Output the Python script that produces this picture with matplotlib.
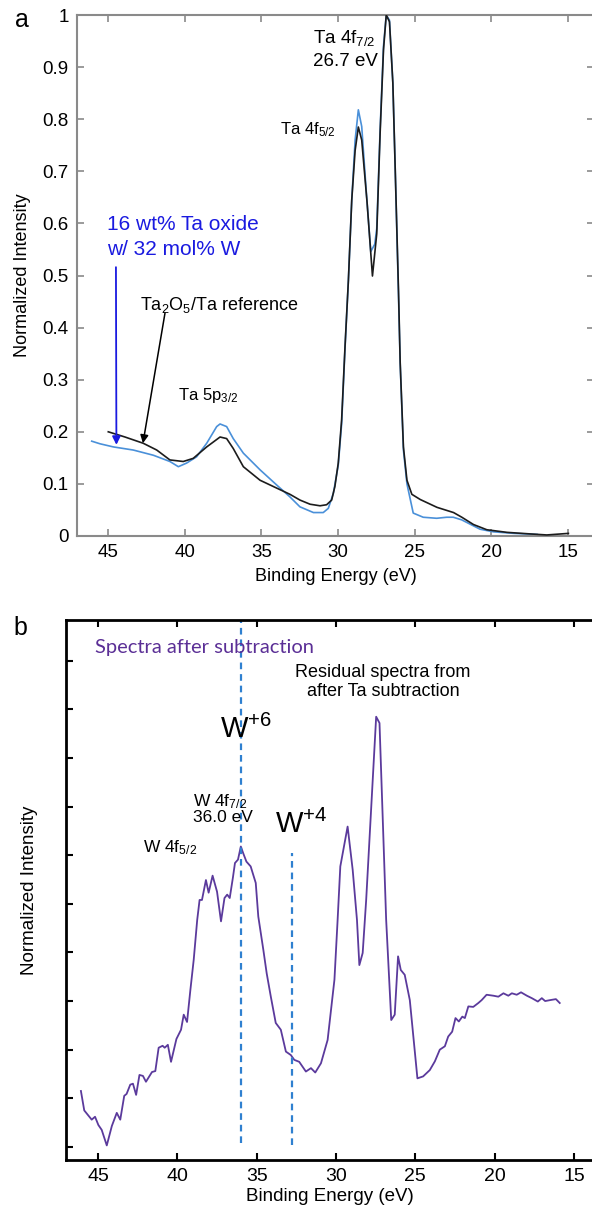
import numpy as np
import matplotlib
matplotlib.use("Agg")
import matplotlib.pyplot as plt

plt.rcParams['font.family'] = ['Liberation Sans', 'DejaVu Sans']
plt.rcParams['mathtext.fontset'] = 'custom'
plt.rcParams['mathtext.rm'] = 'Liberation Sans'
plt.rcParams['mathtext.it'] = 'Liberation Sans:italic'
plt.rcParams['mathtext.bf'] = 'Liberation Sans:bold'

# ---- panel a: Ta 4f region (normalized) ----
ref_be = [44.98, 43.89, 42.7, 41.82, 40.96, 40.09, 39.44, 38.56, 37.69, 37.26,
          36.83, 36.17, 35.08, 34.0, 33.13, 32.48, 31.82, 31.17, 30.74, 30.41,
          30.2, 29.98, 29.76, 29.54, 29.32, 29.1, 28.88, 28.67, 28.45, 28.1,
          27.75, 27.47, 27.25, 27.03, 26.85, 26.64, 26.42, 26.27, 26.05, 25.94,
          25.73, 25.5, 25.18, 24.63, 23.54, 22.46, 21.92, 21.16, 20.29, 18.98,
          17.47, 16.38, 14.97]
ref_int = [0.20, 0.19, 0.178, 0.165, 0.146, 0.143, 0.149, 0.171, 0.19, 0.187,
           0.168, 0.133, 0.107, 0.092, 0.08, 0.069, 0.061, 0.058, 0.060, 0.069,
           0.095, 0.14, 0.223, 0.363, 0.49, 0.645, 0.74, 0.785, 0.76, 0.64,
           0.499, 0.58, 0.773, 0.933, 1.0, 0.987, 0.87, 0.709, 0.47, 0.332,
           0.171, 0.107, 0.08, 0.07, 0.055, 0.045, 0.036, 0.022, 0.012, 0.007,
           0.004, 0.002, 0.005]

w_be = [46.06, 45.52, 44.65, 43.35, 42.04, 40.96, 40.41, 39.87, 39.22, 38.56,
        37.91, 37.69, 37.26, 36.83, 36.17, 35.08, 34.0, 33.13, 32.48, 31.6,
        30.96, 30.63, 30.3, 29.98, 29.76, 29.54, 29.32, 29.1, 28.88, 28.67,
        28.45, 28.15, 27.86, 27.6, 27.47, 27.25, 27.03, 26.85, 26.64, 26.42,
        26.27, 26.05, 25.94, 25.73, 25.5, 25.09, 24.44, 23.56, 22.91, 22.48,
        21.93, 20.73, 19.86, 18.5, 17.0]
w_int = [0.182, 0.177, 0.171, 0.165, 0.155, 0.143, 0.133, 0.140, 0.152, 0.178,
         0.21, 0.215, 0.21, 0.187, 0.159, 0.127, 0.098, 0.075, 0.056, 0.045,
         0.045, 0.053, 0.082, 0.136, 0.215, 0.36, 0.49, 0.645, 0.76, 0.818,
         0.786, 0.66, 0.546, 0.56, 0.59, 0.78, 0.94, 1.0, 0.99, 0.87,
         0.71, 0.46, 0.33, 0.165, 0.1, 0.044, 0.036, 0.034, 0.036, 0.036,
         0.031, 0.013, 0.008, 0.005, 0.003]

# ---- panel b: residual after Ta subtraction (arb. units) ----
res_be = [46.08, 45.87, 45.4, 45.19, 44.98, 44.77, 44.45, 44.13, 43.82, 43.6,
          43.35, 43.2, 42.97, 42.8, 42.6, 42.39, 42.17, 41.98, 41.6, 41.39,
          41.18, 40.93, 40.8, 40.6, 40.4, 40.06, 39.77, 39.6, 39.39, 39.18,
          38.97, 38.75, 38.6, 38.45, 38.2, 38.03, 37.78, 37.5, 37.25, 37.03,
          36.86, 36.7, 36.5, 36.37, 36.18, 36.0, 35.86, 35.65, 35.38, 35.06,
          34.9, 34.58, 34.37, 34.11, 33.8, 33.48, 33.16, 32.85, 32.63, 32.32,
          31.9, 31.58, 31.31, 30.95, 30.53, 30.1, 29.9, 29.73, 29.27, 28.95,
          28.68, 28.53, 28.32, 28.1, 27.47, 27.26, 26.84, 26.52, 26.3, 26.09,
          25.92, 25.67, 25.35, 24.87, 24.51, 24.09, 23.77, 23.46, 23.14, 22.93,
          22.68, 22.47, 22.26, 22.04, 21.88, 21.66, 21.35, 21.03, 20.82, 20.51,
          20.08, 19.77, 19.45, 19.14, 18.92, 18.61, 18.34, 17.97, 17.66, 17.28,
          17.03, 16.82, 16.5, 16.14, 15.9]
res_int = [1.15, 0.75, 0.56, 0.62, 0.45, 0.35, 0.03, 0.43, 0.70, 0.56,
           1.05, 1.09, 1.28, 1.30, 1.07, 1.48, 1.46, 1.34, 1.54, 1.56,
           2.04, 2.08, 2.04, 2.10, 1.75, 2.22, 2.41, 2.72, 2.57, 3.23,
           3.85, 4.67, 5.08, 5.08, 5.49, 5.23, 5.58, 5.25, 4.64, 5.12,
           5.19, 5.12, 5.54, 5.84, 5.91, 6.18, 6.05, 5.87, 5.77, 5.43,
           4.74, 4.05, 3.57, 3.09, 2.55, 2.41, 1.96, 1.89, 1.79, 1.75,
           1.55, 1.62, 1.53, 1.72, 2.20, 3.44, 4.67, 5.77, 6.59, 5.70,
           4.67, 3.74, 3.99, 5.08, 8.85, 8.72, 4.67, 2.61, 2.72, 3.92,
           3.64, 3.54, 3.02, 1.41, 1.45, 1.58, 1.76, 2.00, 2.07, 2.27,
           2.37, 2.65, 2.58, 2.68, 2.65, 2.89, 2.88, 2.96, 3.02, 3.13,
           3.11, 3.09, 3.16, 3.11, 3.16, 3.13, 3.18, 3.11, 3.06, 2.99,
           3.06, 3.00, 3.02, 3.04, 2.96]

w6_be = 36.0
w4_be = 32.8
x_ticks = [45, 40, 35, 30, 25, 20, 15]

W, H = 592, 1209
fig = plt.figure(figsize=(W / 100, H / 100), dpi=100)

# ------------------- panel a -------------------
ax1 = fig.add_axes([77 / W, 1 - 536 / H, 517 / W, 521 / H])
ax1.plot(ref_be, ref_int, color='#1c1c1c', lw=1.2, zorder=3)
ax1.plot(w_be, w_int, color='#4a90d9', lw=1.2, zorder=2)
ax1.set_xlim(47.02, 13.3)
ax1.set_ylim(0, 1)
ax1.set_xticks(x_ticks)
ax1.set_yticks(np.arange(0, 1.01, 0.1))
ax1.set_yticklabels(['0', '0.1', '0.2', '0.3', '0.4', '0.5', '0.6', '0.7', '0.8', '0.9', '1'])
for s in ax1.spines.values():
    s.set_color('#8a8a8a')
    s.set_linewidth(1.5)
ax1.tick_params(direction='in', length=5, width=1.2, color='#8a8a8a',
                labelsize=13.5, top=True, right=True, pad=6)
ax1.set_xlabel('Binding Energy (eV)', fontsize=13, labelpad=5)
ax1.set_ylabel('Normalized Intensity', fontsize=13, labelpad=8)

ax1.text(31.63, 0.956, r'Ta 4f$_{7/2}$', fontsize=13.5, va='center', ha='left')
ax1.text(31.63, 0.91, '26.7 eV', fontsize=13.5, va='center', ha='left')
ax1.text(33.78, 0.779, r'Ta 4f$_{5/2}$', fontsize=12, va='center', ha='left')
ax1.text(40.43, 0.27, r'Ta 5p$_{3/2}$', fontsize=12, va='center', ha='left')
ax1.text(45.07, 0.597, '16 wt% Ta oxide', fontsize=15, color='#1a1ae0',
         va='center', ha='left')
ax1.text(45.07, 0.549, 'w/ 32 mol% W', fontsize=15, color='#1a1ae0',
         va='center', ha='left')
ax1.text(42.91, 0.443, r'Ta$_2$O$_5$/Ta reference', fontsize=13,
         va='center', ha='left')
ax1.annotate('', xy=(44.45, 0.175), xytext=(44.48, 0.516),
             arrowprops=dict(arrowstyle='-|>', color='#1a1ae0', lw=1.3,
                             mutation_scale=12, shrinkA=0, shrinkB=0))
ax1.annotate('', xy=(42.72, 0.178), xytext=(41.28, 0.428),
             arrowprops=dict(arrowstyle='-|>', color='black', lw=1.1,
                             mutation_scale=12, shrinkA=0, shrinkB=0))
fig.text(22 / W, 1 - 20 / H, 'a', fontsize=18, ha='center', va='center')

# ------------------- panel b -------------------
ax2 = fig.add_axes([66 / W, 1 - 1160 / H, 528 / W, 540 / H])
ax2.plot(res_be, res_int, color='#5b3a9c', lw=1.3)
ax2.plot([w6_be, w6_be], [0.08, 10.84], color='#2f80d0', lw=1.6,
         ls=(0, (3, 2.2)))
ax2.plot([w4_be, w4_be], [0.04, 6.05], color='#2f80d0', lw=1.6,
         ls=(0, (3, 2.2)))
ax2.set_xlim(47.02, 13.74)
ax2.set_ylim(-0.27, 10.84)
ax2.set_xticks(x_ticks)
ax2.set_yticks(range(0, 11))
ax2.set_yticklabels([])
ax2.spines['right'].set_visible(False)
for k in ['left', 'top', 'bottom']:
    ax2.spines[k].set_linewidth(2)
ax2.tick_params(direction='in', length=5, width=1.5, labelsize=14, top=True,
                pad=6)
ax2.set_xlabel('Binding Energy (eV)', fontsize=13.5, labelpad=2)
ax2.set_ylabel('Normalized Intensity', fontsize=13.5, labelpad=14)

ax2.text(45.19, 10.27, 'Spectra after subtraction', fontsize=14.5,
         color='#5b2f96', family=['Lato', 'DejaVu Sans'], va='center', ha='left')
ax2.text(27.04, 9.77, 'Residual spectra from', fontsize=13, va='center', ha='center')
ax2.text(27.04, 9.36, 'after Ta subtraction', fontsize=13, va='center', ha='center')
ax2.text(37.31, 8.58, r'W$^{+6}$', fontsize=21, va='center', ha='left')
ax2.text(33.85, 6.63, r'W$^{+4}$', fontsize=21, va='center', ha='left')
ax2.text(39.01, 7.1, r'W 4f$_{7/2}$', fontsize=12.5, va='center', ha='left')
ax2.text(39.01, 6.77, '36.0 eV', fontsize=12.5, va='center', ha='left')
ax2.text(42.16, 6.15, r'W 4f$_{5/2}$', fontsize=12.5, va='center', ha='left')
fig.text(20 / W, 1 - 628 / H, 'b', fontsize=18, ha='center', va='center')

fig.savefig('out.png', dpi=100)
